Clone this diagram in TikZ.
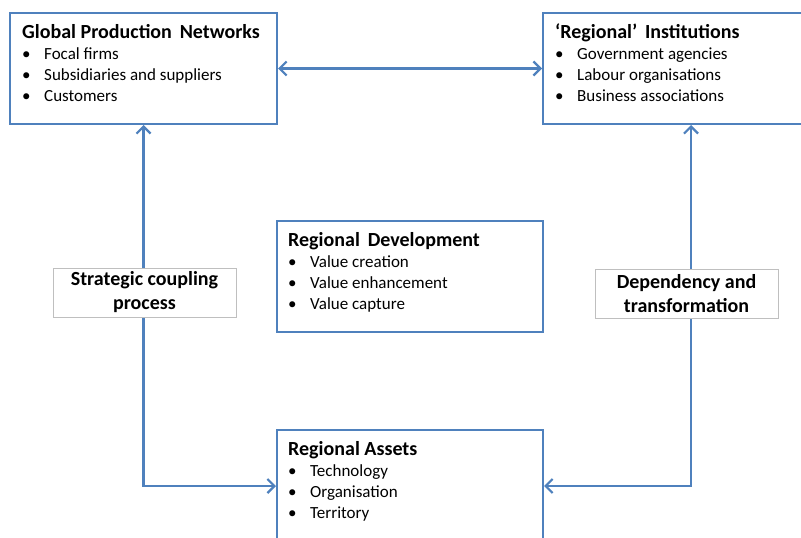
\documentclass[tikz,border=0pt]{standalone}
\usepackage{fontspec}
\setmainfont{Carlito}
\usetikzlibrary{arrows.meta}
\definecolor{boxblue}{HTML}{4F81BD}
\definecolor{taggray}{HTML}{BFBFBF}
\newcommand{\itm}[1]{\makebox[22pt][l]{\textbullet}#1}
\newcommand{\ttl}[1]{{\fontsize{20}{21}\selectfont\bfseries #1}}

\begin{document}
\begin{tikzpicture}[x=1pt,y=-1pt]
        \tikzstyle{panel}=[rectangle,draw=boxblue,line width=2pt,anchor=north west,inner sep=0pt]
        \tikzstyle{paneltext}=[anchor=north west,align=left,inner sep=0pt,font=\fontsize{17}{21}\selectfont]
        \tikzstyle{tag}=[rectangle,draw=taggray,line width=0.8pt,fill=white,align=center,minimum width=183pt,minimum height=49pt,font=\fontsize{20}{24}\selectfont\bfseries]
        \tikzstyle{link}=[draw=boxblue,line width=2.2pt,{Straight Barb[length=7pt,width=14pt]}-{Straight Barb[length=7pt,width=14pt]}]
        \useasboundingbox (0,0) rectangle (801,538);
        \clip (0,0) rectangle (801,538);

        % boxes
        \node [panel,minimum width=267pt,minimum height=111pt] (gpn) at (9,12) {};
        \node [panel,minimum width=296pt,minimum height=111pt] (inst) at (542,12) {};
        \node [panel,minimum width=266pt,minimum height=111pt] (dev) at (276,220) {};
        \node [panel,minimum width=266pt,minimum height=112pt] (assets) at (276,429) {};

        \node [paneltext] (gpntext) at (22,24) {\ttl{Global Production\, Networks}\\ \itm{Focal firms}\\ \itm{Subsidiaries and suppliers}\\ \itm{Customers}};
        \node [paneltext] (insttext) at (555,24) {\ttl{‘Regional’\, Institutions}\\ \itm{Government agencies}\\ \itm{Labour organisations}\\ \itm{Business associations}};
        \node [paneltext] (devtext) at (288,232) {\ttl{Regional\, Development}\\ \itm{Value creation}\\ \itm{Value enhancement}\\ \itm{Value capture}};
        \node [paneltext] (assetstext) at (288,441) {\ttl{Regional Assets}\\ \itm{Technology}\\ \itm{Organisation}\\ \itm{Territory}};

        % connectors
        \path[link] (gpn.east) -- (inst.west);
        \path[link] (gpn.south) |- (assets.west);
        \path[link] (inst.south) |- (assets.east);

        % labels on the vertical lines
        \node [tag] (coupling) at (144.5,292.5) {\raisebox{-2pt}{Strategic coupling}\\\raisebox{-2pt}{process}};
        \node [tag] (depend) at (686.5,294) {\raisebox{-2pt}{Dependency and}\\\raisebox{-2pt}{transformation}};
\end{tikzpicture}
\end{document}
